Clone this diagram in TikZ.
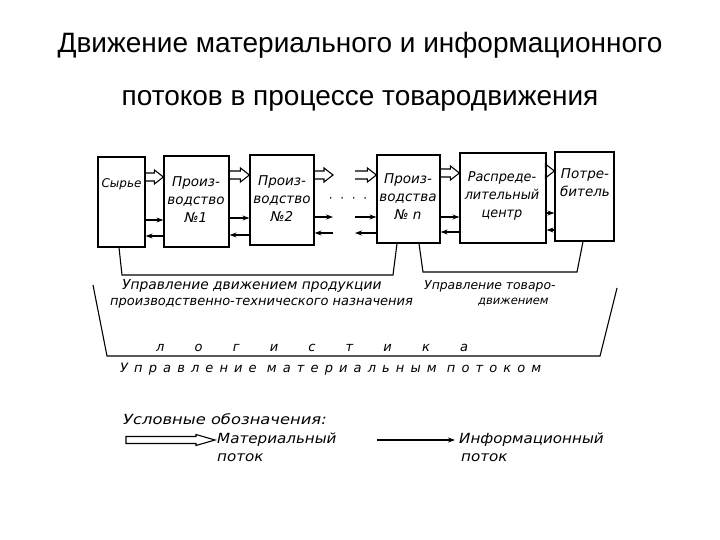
\documentclass[tikz,border=0pt]{standalone}
\usepackage{fontspec}
\setmainfont{Liberation Sans}
\newfontfamily\hand{DejaVu Sans}
\newfontfamily\handwide[LetterSpace=47]{DejaVu Sans}
\newfontfamily\handlog[LetterSpace=232]{DejaVu Sans}
\usetikzlibrary{calc,arrows.meta}
\begin{document}
\begin{tikzpicture}[x=1pt,y=-1pt,
  box/.style={draw, line width=1.2pt, inner sep=0pt},
  lbl/.style={font=\hand\itshape\fontsize{13.5}{18}\selectfont, align=center, inner sep=0pt},
  txt/.style={font=\hand\itshape\fontsize{13}{14}\selectfont, inner sep=0pt, anchor=west},
  legtxt/.style={font=\hand\itshape\fontsize{14}{16}\selectfont, inner sep=0pt, anchor=west, xscale=1.08},
  info/.style={line width=1.2pt, -{Stealth[length=7pt,width=5pt]}},
  brk/.style={line width=1.1pt, line join=miter},
  matflow/.style={line width=1.1pt, line join=miter, to path={let \p1=(\tikztostart), \p2=(\tikztotarget) in
     (\x1,\y1+4pt) -- (\x2-9pt,\y1+4pt) -- (\x2-9pt,\y1+7pt) -- (\x2,\y1) -- (\x2-9pt,\y1-7pt) -- (\x2-9pt,\y1-4pt) -- (\x1,\y1-4pt)}},
  matlegend/.style={line width=1.1pt, line join=miter, to path={let \p1=(\tikztostart), \p2=(\tikztotarget) in
     (\x1,\y1+3.5pt) -- (\x2-19pt,\y1+3.5pt) -- (\x2-19pt,\y1+5.5pt) -- (\x2,\y1) -- (\x2-19pt,\y1-5.5pt) -- (\x2-19pt,\y1-3.5pt) -- (\x1,\y1-3.5pt) -- cycle}}
]
\useasboundingbox[fill=white] (0,0) rectangle (720,540);

% title
\node[font=\fontsize{28}{32}\selectfont, anchor=base, inner sep=0pt] (t1) at (360,53) {Движение материального и информационного};
\node[font=\fontsize{28}{32}\selectfont, anchor=base, inner sep=0pt] (t2) at (360,106) {потоков в процессе товародвижения};

% boxes
\node[box, minimum width=47pt, minimum height=90pt] (syr) at (121.5,202) {};
\node[box, minimum width=65pt, minimum height=91pt] (p1) at (196.5,201.5) {};
\node[box, minimum width=64pt, minimum height=90pt] (p2) at (282,200) {};
\node[box, minimum width=63pt, minimum height=88pt] (pn) at (408.5,199) {};
\node[box, minimum width=86pt, minimum height=90pt] (rc) at (503,198) {};
\node[box, minimum width=59pt, minimum height=89pt] (pt) at (584.5,196.5) {};

% box labels
\node[lbl, font=\hand\itshape\fontsize{12}{18}\selectfont] (syrt) at (121.5,184) {Сырье};
\node[lbl] (p1t) at (196,200) {Произ-\\водство\\№1};
\node[lbl] (p2t) at (282,199) {Произ-\\водство\\№2};
\node[lbl] (pnt) at (408,197) {Произ-\\водства\\№ n};
\node[lbl, xscale=0.95] (rct) at (502,196) {Распреде-\\лительный\\центр};
\node[lbl] (ptt) at (585,183) {Потре-\\битель};

% free ends
\coordinate (m2) at (333,175);
\coordinate (mn) at (355,175);
\coordinate (i2r) at (333,217);
\coordinate (i2l) at (333,233);
\coordinate (inr) at (355,217);
\coordinate (inl) at (355,233);

% material flows
\draw[matflow] (syr.east |- 0,177) to (p1.west |- 0,177);
\draw[matflow] (p1.east |- 0,175) to (p2.west |- 0,175);
\draw[matflow] (p2.east |- 0,175) to (m2);
\draw[matflow] (mn) to (pn.west |- 0,175);
\draw[matflow] (pn.east |- 0,173) to (rc.west |- 0,173);
\draw[matflow] (rc.east |- 0,171) to (pt.west |- 0,171);

% information flows
\draw[info] (syr.east |- 0,220) -- (p1.west |- 0,220);
\draw[info] (p1.west |- 0,236) -- (syr.east |- 0,236);
\draw[info] (p1.east |- 0,218) -- (p2.west |- 0,218);
\draw[info] (p2.west |- 0,235) -- (p1.east |- 0,235);
\draw[info] (p2.east |- 0,217) -- (i2r);
\draw[info] (i2l) -- (p2.east |- 0,233);
\draw[info] (inr) -- (pn.west |- 0,217);
\draw[info] (pn.west |- 0,233) -- (inl);
\draw[info] (pn.east |- 0,217) -- (rc.west |- 0,217);
\draw[info] (rc.west |- 0,232) -- (pn.east |- 0,232);
\draw[info] (rc.east |- 0,213) -- (pt.west |- 0,213);
\draw[info] (pt.west |- 0,230) -- (rc.east |- 0,230);

\node[font=\hand\fontsize{12}{14}\selectfont, inner sep=0pt] (dots) at (348,200) {·\ \ ·\ \ ·\ \ ·};

% brackets
\draw[brk] (syr.south -| 119,0) -- (122,275) -- (393,275) -- (pn.south -| 397,0);
\draw[brk] (pn.south -| 419,0) -- (423,272) -- (577,272) -- (pt.south -| 583,0);
\draw[brk] (93,285) -- (107,356) -- (600,356) -- (617,288);

% bracket texts
\node[txt, font=\hand\itshape\fontsize{13.8}{14}\selectfont] (u1) at (122,286) {Управление движением продукции};
\node[txt] (u2) at (110,303) {производственно-технического назначения};
\node[txt, font=\hand\itshape\fontsize{12.4}{14}\selectfont] (u3) at (424,286) {Управление товаро-};
\node[txt, font=\hand\itshape\fontsize{11.5}{14}\selectfont] (u4) at (478,302) {движением};
\node[font=\handlog\itshape\fontsize{13}{14}\selectfont, inner sep=0pt, anchor=west] (log) at (156,348) {логистика};
\node[font=\handwide\itshape\fontsize{13}{14}\selectfont, inner sep=0pt, anchor=west] (umat) at (120,369) {Управление материальным потоком};

% legend
\node[legtxt, xscale=1.08] (leg) at (123,419) {Условные обозначения:};
\coordinate (la) at (126,440);
\coordinate (lb) at (215,440);
\draw[matlegend] (la) to (lb);
\node[legtxt] (lm1) at (217,440) {Материальный};
\node[legtxt] (lm2) at (217,458) {поток};
\coordinate (lc) at (377,440);
\coordinate (ld) at (455,440);
\draw[info] (lc) -- (ld);
\node[legtxt] (li1) at (459,440) {Информационный};
\node[legtxt] (li2) at (461,458) {поток};
\end{tikzpicture}
\end{document}
